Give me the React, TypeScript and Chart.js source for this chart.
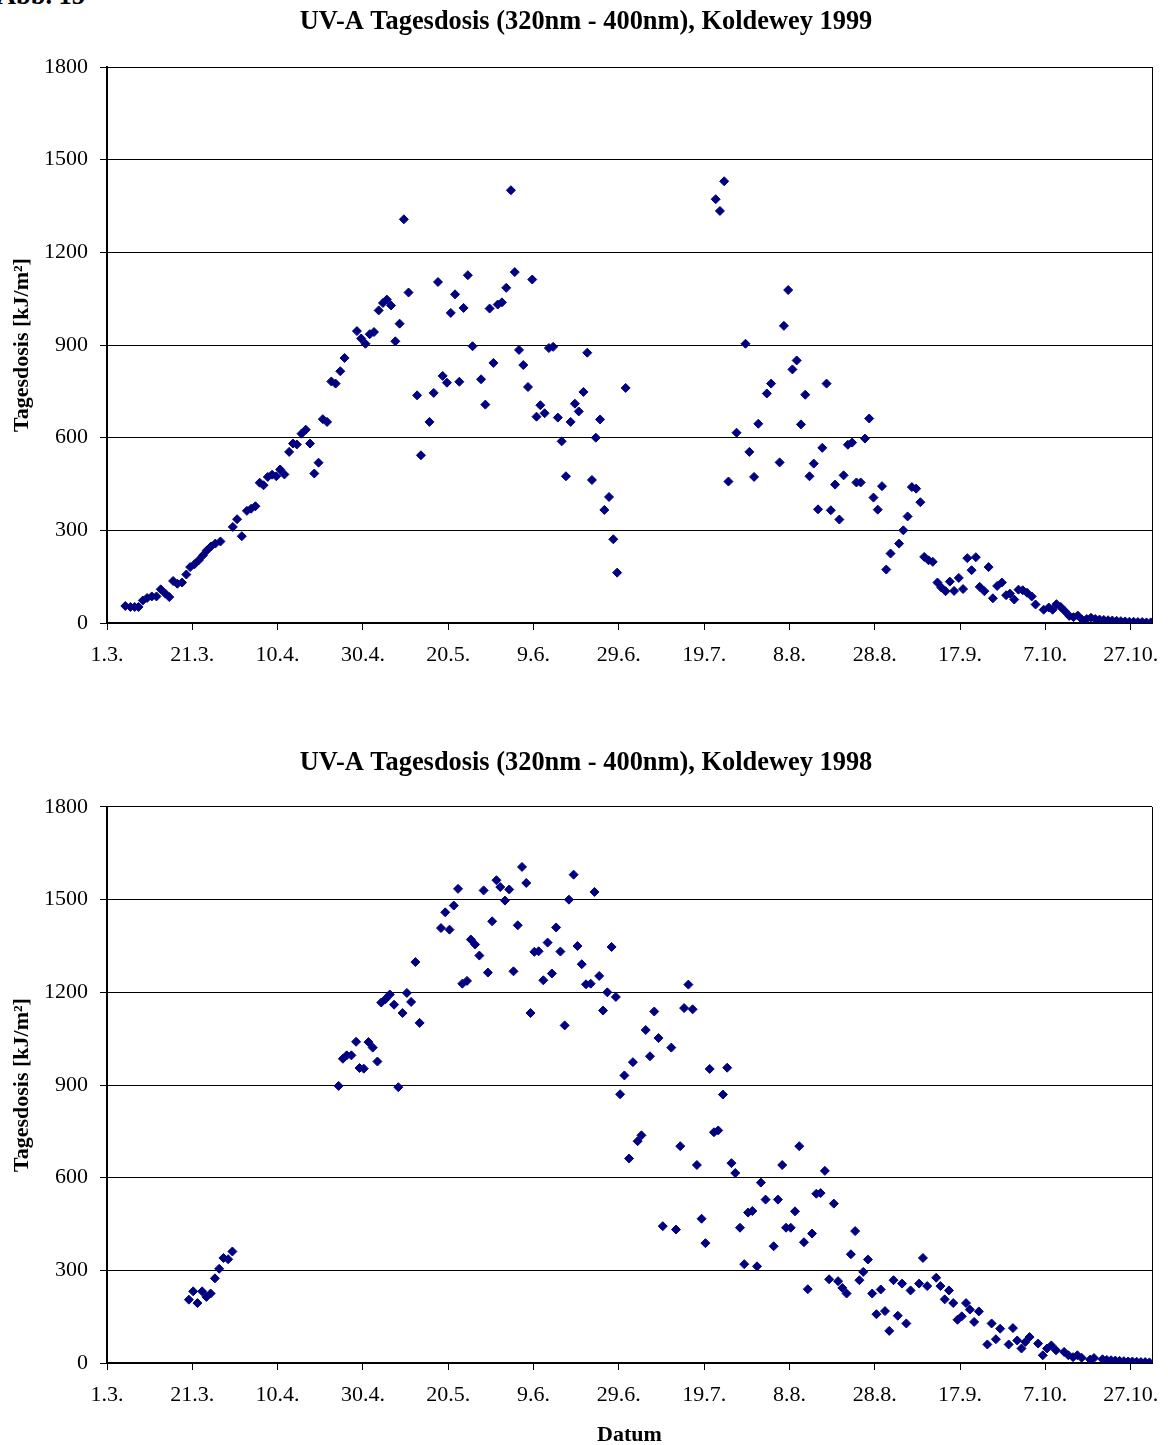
import React, { useEffect, useRef } from 'react';
import { Chart, registerables } from 'chart.js';

Chart.register(...registerables);

// x axis: days counted from 1 March; one tick label every 20 days
const tickLabels = ['1.3.', '21.3.', '10.4.', '30.4.', '20.5.', '9.6.', '29.6.', '19.7.', '8.8.', '28.8.', '17.9.', '7.10.', '27.10.'];
const tickStepDays = 20;
const xMaxDays = 245; // 1.11.
const yMin = 0;
const yMax = 1800;
const yStep = 300;

const title1999 = 'UV-A Tagesdosis (320nm - 400nm), Koldewey 1999';
const title1998 = 'UV-A Tagesdosis (320nm - 400nm), Koldewey 1998';
const yAxisTitle = 'Tagesdosis [kJ/m²]';
const xAxisTitle = 'Datum';

// 1999 series: day (since 1.3.) and daily dose [kJ/m²]
const days1999 = [
  4.3, 5.5, 6.5, 7.4, 8.4, 9.4, 10.5, 11.6, 12.6, 13.7, 14.6, 15.5, 16.5, 17.6, 18.6, 19.5, 20.5, 21.5, 22.5, 23.4,
  24.4, 25.4, 26.6, 29.5, 30.5, 31.6, 32.8, 33.8, 34.8, 35.8, 36.7, 37.7, 38.7, 39.7, 40.6, 41.6, 42.7, 43.6, 44.5, 45.6,
  46.6, 47.6, 48.6, 49.6, 50.6, 51.6, 52.6, 53.6, 54.7, 55.7, 58.6, 59.6, 60.6, 61.6, 62.6, 63.7, 64.7, 65.6, 66.6, 67.6,
  68.6, 69.6, 70.7, 72.7, 73.6, 75.6, 76.6, 77.6, 78.7, 79.7, 80.6, 81.6, 82.6, 83.6, 84.6, 85.7, 87.7, 88.7, 89.7, 90.6,
  91.6, 92.6, 93.6, 94.7, 95.6, 96.6, 97.6, 98.7, 99.7, 100.7, 101.6, 102.6, 103.6, 104.6, 105.7, 106.6, 107.6, 108.7, 109.7, 110.6,
  111.7, 112.6, 113.7, 114.6, 115.6, 116.6, 117.7, 118.7, 119.6, 121.6,
  142.7, 143.7, 144.7, 145.7, 147.6, 149.7, 150.6, 151.7, 152.7, 154.7, 155.7, 157.7, 158.7, 159.7, 160.7, 161.7, 162.7, 163.7, 164.7, 165.7,
  166.7, 167.7, 168.7, 169.7, 170.7, 171.7, 172.7, 173.7, 174.7, 175.7, 176.7, 177.7, 178.7, 179.7, 180.7, 181.7, 182.7, 183.7, 185.7, 186.7,
  187.7, 188.7, 189.7, 190.7, 191.6, 192.6, 193.6, 194.7, 195.6, 196.6, 197.6, 198.6, 199.7, 200.7, 201.7, 202.7, 203.7, 204.6, 205.7, 206.7,
  207.7, 208.7, 209.8, 210.8, 211.7, 212.7, 213.7, 214.7, 215.7, 216.8, 217.7, 219.6, 220.8, 221.7, 222.6, 223.6, 224.6, 225.6, 226.6, 227.6,
  228.6, 229.7, 230.7, 231.7, 232.7, 233.7, 234.7, 235.7, 236.7, 237.7, 238.7, 239.7, 240.7, 241.7, 242.7, 243.7, 244.7,
];
const values1999 = [
  55, 52, 52, 52, 73, 81, 86, 86, 109, 95, 84, 136, 127, 131, 157, 181, 190, 203, 219, 235,
  248, 257, 264, 311, 336, 281, 363, 370, 378, 454, 446, 473, 480, 475, 497, 481, 554, 581, 578, 613,
  626, 581, 484, 519, 660, 651, 782, 775, 815, 858, 945, 921, 904, 935, 942, 1012, 1036, 1047, 1028, 912,
  969, 1307, 1070, 737, 543, 651, 745, 1104, 800, 778, 1004, 1064, 781, 1020, 1126, 896, 789, 707, 1018, 842,
  1031, 1038, 1085, 1401, 1136, 884, 835, 764, 1112, 668, 705, 679, 890, 894, 665, 588, 475, 651, 710, 685,
  748, 875, 463, 600, 659, 366, 408, 271, 163, 761,
  1372, 1334, 1430, 458, 616, 904, 554, 473, 645, 743, 775, 520, 962, 1078, 821, 850, 643, 739, 475, 516,
  368, 567, 775, 365, 448, 335, 478, 577, 584, 455, 455, 597, 662, 406, 367, 443, 173, 225, 257, 300,
  345, 440, 435, 391, 214, 203, 198, 131, 115, 103, 134, 104, 146, 110, 210, 171, 213, 117, 103, 181,
  80, 120, 131, 90, 95, 76, 108, 106, 98, 86, 60, 43, 50, 43, 61, 52, 38, 23, 19, 24,
  11, 13, 17, 13, 11, 10, 9, 8, 7, 6, 5, 4, 4, 3, 3, 2, 2,
];

// 1998 series
const days1998 = [
  19.2, 20.2, 21.2, 22.3, 23.3, 24.3, 25.3, 26.3, 27.3, 28.4, 29.4,
  54.3, 55.3, 56.2, 57.3, 58.4, 59.2, 60.2, 61.3, 62.3, 63.4, 64.3, 65.3, 66.3, 67.3, 68.3, 69.3, 70.3, 71.3, 72.3, 73.3,
  78.3, 79.3, 80.3, 81.3, 82.3, 83.3, 84.4, 85.3, 86.3, 87.3, 88.3, 89.3, 90.3, 91.3, 92.2, 93.3, 94.3, 95.3, 96.3, 97.3,
  98.3, 99.3, 100.2, 101.2, 102.3, 103.3, 104.3, 105.3, 106.3, 107.3, 108.3, 109.4, 110.3, 111.3, 112.3, 113.4, 114.3, 115.4, 116.3, 117.3,
  118.3, 119.3, 120.3, 121.3, 122.4, 123.3, 124.4, 125.3, 126.3, 127.3, 128.3, 129.3, 130.3, 132.3, 133.4, 134.4, 135.3, 136.3, 137.3, 138.3,
  139.4, 140.3, 141.3, 142.3, 143.3, 144.4, 145.4, 146.4, 147.3, 148.4, 149.4, 150.3, 151.3, 152.4, 153.3, 154.4, 156.3, 157.3, 158.3, 159.2,
  160.3, 161.3, 162.3, 163.4, 164.3, 165.3, 166.3, 167.3, 168.3, 169.3, 170.4, 171.4, 172.4, 173.4, 174.4, 175.4, 176.4, 177.3, 178.4, 179.4,
  180.4, 181.4, 182.4, 183.4, 184.4, 185.4, 186.4, 187.4, 188.4, 190.4, 191.3, 192.3, 194.4, 195.4, 196.4, 197.4, 198.4, 199.4, 200.4, 201.4,
  202.3, 203.3, 204.4, 206.4, 207.4, 208.4, 209.4, 211.4, 212.4, 213.4, 214.4, 215.3, 216.3, 218.3, 219.4, 220.4, 221.4, 222.5, 224.4, 225.4,
  226.5, 227.5, 228.5, 230.5, 231.4, 233.4, 234.4, 235.4, 236.4, 237.4, 238.4, 239.4, 240.4, 241.4, 242.4, 243.4, 244.4,
];
const values1998 = [
  205, 232, 194, 232, 214, 225, 274, 305, 340, 336, 361,
  897, 985, 996, 996, 1040, 955, 953, 1039, 1021, 976, 1167, 1178, 1193, 1160, 893, 1133, 1198, 1169, 1298, 1101,
  1408, 1459, 1403, 1481, 1535, 1228, 1237, 1371, 1355, 1319, 1530, 1264, 1430, 1563, 1541, 1497, 1533, 1268, 1417, 1606,
  1554, 1133, 1331, 1333, 1239, 1361, 1261, 1410, 1332, 1093, 1500, 1581, 1350, 1291, 1226, 1228, 1525, 1253, 1141, 1200,
  1347, 1185, 870, 931, 662, 974, 718, 737, 1078, 993, 1138, 1052, 443, 1021, 432, 702, 1149, 1225, 1145, 641,
  467, 388, 952, 747, 753, 869, 956, 647, 615, 438, 320, 487, 492, 313, 584, 529, 378, 529, 641, 438,
  438, 491, 702, 391, 239, 419, 548, 550, 622, 271, 516, 265, 243, 225, 352, 427, 268, 295, 335, 225,
  158, 238, 168, 104, 268, 153, 257, 128, 235, 257, 340, 249, 276, 249, 206, 235, 194, 140, 151, 194,
  173, 133, 167, 60, 128, 77, 111, 60, 113, 73, 47, 68, 84, 63, 25, 47, 57, 41, 36, 25,
  19, 25, 17, 11, 16, 12, 10, 9, 8, 7, 6, 5, 5, 4, 3, 3, 2,
];

const SERIF = "'Times New Roman', 'Liberation Serif', serif";
const MARKER = '#000080';

type ChartProps = {
  title: string;
  days: number[];
  values: number[];
  height: number;
  titlePadTop: number;
  titlePadBottom: number;
  xAxisHeight: number;
  showXTitle: boolean;
};

function UVChart({ title, days, values, height, titlePadTop, titlePadBottom, xAxisHeight, showXTitle }: ChartProps) {
  const ref = useRef<HTMLCanvasElement>(null);

  useEffect(() => {
    const canvas = ref.current;
    if (!canvas) return;
    const frame = {
      id: 'frame',
      beforeDatasetsDraw(chart: any) {
        const { ctx, chartArea: a } = chart;
        ctx.save();
        ctx.strokeStyle = '#000';
        ctx.lineWidth = 1;
        ctx.beginPath();
        const xr = Math.round(a.right) + 0.5;
        ctx.moveTo(xr, a.top);
        ctx.lineTo(xr, a.bottom);
        ctx.stroke();
        ctx.restore();
      },
    };
    const tickFont = { family: SERIF, size: 22, weight: 'normal' as const, lineHeight: 1.2 };
    const chart = new Chart(canvas, {
      type: 'scatter',
      data: {
        datasets: [
          {
            data: days.map((d, i) => ({ x: d, y: values[i] })),
            pointStyle: 'rectRot',
            pointRadius: 4.5,
            pointHoverRadius: 4.5,
            backgroundColor: MARKER,
            borderColor: MARKER,
            borderWidth: 1,
          },
        ],
      },
      options: {
        responsive: false,
        animation: false,
        devicePixelRatio: 1,
        events: [],
        layout: { padding: { left: 4, right: 0, top: 0, bottom: 0 } },
        plugins: {
          legend: { display: false },
          tooltip: { enabled: false },
          title: {
            display: true,
            text: title,
            color: '#000',
            font: { family: SERIF, size: 26.4, weight: 'bold', lineHeight: 1.2 },
            padding: { top: titlePadTop, bottom: titlePadBottom },
          },
        },
        scales: {
          x: {
            type: 'linear',
            min: 0,
            max: xMaxDays,
            afterBuildTicks: (s: any) => {
              s.ticks = tickLabels.map((_, i) => ({ value: i * tickStepDays }));
            },
            afterFit: (s: any) => {
              s.height = xAxisHeight;
              s.paddingLeft = 0;
              s.paddingRight = 16;
            },
            grid: { drawOnChartArea: false, drawTicks: true, tickLength: 7, color: '#000', lineWidth: 1 },
            border: { display: true, color: '#000', width: 2 },
            ticks: {
              autoSkip: false,
              maxRotation: 0,
              minRotation: 0,
              padding: 12,
              color: '#000',
              font: tickFont,
              callback: (v: any) => tickLabels[Math.round(Number(v) / tickStepDays)] ?? '',
            },
            title: {
              display: showXTitle,
              text: xAxisTitle,
              color: '#000',
              font: { family: SERIF, size: 22, weight: 'bold', lineHeight: 0.91 },
              padding: { top: 0, bottom: 0 },
            },
          },
          y: {
            type: 'linear',
            min: yMin,
            max: yMax,
            afterFit: (s: any) => {
              s.width = 103;
              s.paddingTop = 0;
              s.paddingBottom = 0;
            },
            grid: { drawOnChartArea: true, drawTicks: true, tickLength: 7, color: '#000', lineWidth: 1 },
            border: { display: true, color: '#000', width: 2 },
            ticks: {
              stepSize: yStep,
              padding: 12,
              color: '#000',
              font: tickFont,
              callback: (v: any) => String(v),
            },
            title: {
              display: true,
              text: yAxisTitle,
              color: '#000',
              font: { family: SERIF, size: 22, weight: 'bold', lineHeight: 1.2 },
              padding: { top: 4.8, bottom: 0 },
            },
          },
        },
      },
      plugins: [frame],
    } as any);
    return () => chart.destroy();
  }, [title, days, values, height, titlePadTop, titlePadBottom, xAxisHeight, showXTitle]);

  return <canvas ref={ref} width={1168} height={height} style={{ display: 'block', width: 1168, height }} />;
}

export default function App() {
  return (
    <div style={{ position: 'absolute', left: 0, top: 0, width: 1168, height: 1445, overflow: 'hidden', background: '#fff' }}>
      <div
        style={{
          position: 'absolute',
          left: -3,
          top: -18,
          fontFamily: SERIF,
          fontWeight: 'bold',
          fontSize: 26.4,
          lineHeight: '26px',
          whiteSpace: 'nowrap',
          color: '#000',
        }}
      >
        Abb. 15
      </div>
      <div style={{ position: 'absolute', left: 0, top: 0 }}>
        <UVChart
          title={title1999}
          days={days1999}
          values={values1999}
          height={700}
          titlePadTop={6.66}
          titlePadBottom={28.66}
          xAxisHeight={77}
          showXTitle={false}
        />
      </div>
      <div style={{ position: 'absolute', left: 0, top: 700 }}>
        <UVChart
          title={title1998}
          days={days1998}
          values={values1998}
          height={745}
          titlePadTop={47.66}
          titlePadBottom={27.66}
          xAxisHeight={82}
          showXTitle={true}
        />
      </div>
    </div>
  );
}
